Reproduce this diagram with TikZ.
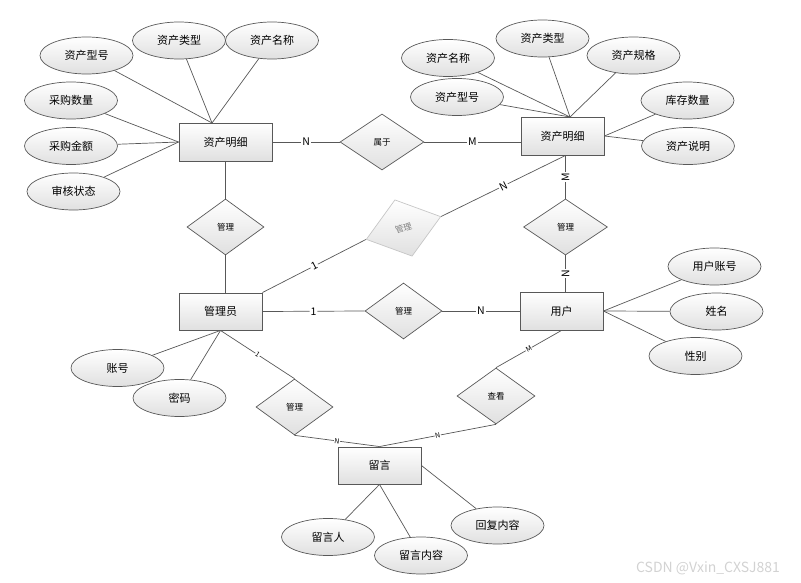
\documentclass[tikz,border=0pt]{standalone}
\usepackage{fontspec}
\setmainfont{Noto Sans CJK SC}
\usepackage{tikz}
\usetikzlibrary{positioning,shapes.geometric}
\definecolor{edgegray}{RGB}{88,88,88}
\definecolor{shadegray}{RGB}{224,224,224}

\begin{document}
\begin{tikzpicture}[x=1pt,y=-1pt,
  entity/.style={draw=edgegray,line width=0.9pt,top color=white,bottom color=shadegray,
    minimum width=83pt,minimum height=38pt,inner sep=0pt,font=\fontsize{11}{13}\selectfont},
  attr/.style={ellipse,draw=edgegray,line width=0.7pt,top color=white,bottom color=shadegray,
    minimum width=93pt,minimum height=37pt,inner sep=0pt,font=\fontsize{11}{13}\selectfont},
  rel/.style={diamond,draw=edgegray,line width=0.7pt,top color=white,bottom color=shadegray,
    minimum width=77pt,minimum height=56pt,inner sep=0pt,font=\fontsize{8.5}{10}\selectfont},
  link/.style={draw=edgegray,line width=0.7pt},
  card/.style={fill=white,inner sep=1pt,sloped,font=\fontsize{10.5}{12}\selectfont},
  tinycard/.style={fill=white,inner sep=0.5pt,sloped,font=\fontsize{7}{8}\selectfont}
]
\useasboundingbox (0,0) rectangle (801,583);
\node[entity,minimum width=93pt] (ad) at (225.5,142) {资产明细};
\node[entity] (ar) at (562.5,136) {资产明细};
\node[entity,minimum height=37pt] (admin) at (220.5,311.5) {管理员};
\node[entity] (user) at (561.5,311) {用户};
\node[entity,minimum height=37pt] (msg) at (379.5,465.5) {留言};
\node[rel,minimum width=84pt] (belong) at (382,142) {属于};
\node[rel] (mgA) at (225.5,227) {管理};
\node[rel,draw=gray!45,text=gray,minimum width=78pt,minimum height=59pt,rotate=17] (mgB) at (403.5,228) {管理};
\node[rel] (mgC) at (403.5,311) {管理};
\node[rel,minimum width=84pt] (mgD) at (565.5,227) {管理};
\node[rel] (mgE) at (294.5,407) {管理};
\node[rel,minimum width=78pt] (view) at (496,396) {查看};
\coordinate (adtop) at (212,123);
\coordinate (artop) at (570,117);
\node[attr] (admodel) at (86.5,55.5) {资产型号};
\node[attr] (adkind) at (179,40.5) {资产类型};
\node[attr] (adname) at (272,40.5) {资产名称};
\node[attr] (buynum) at (71,100.5) {采购数量};
\node[attr] (buysum) at (71,146) {采购金额};
\node[attr] (audit) at (73.5,191.5) {审核状态};
\node[attr] (arname) at (448,58) {资产名称};
\node[attr] (arkind) at (542.5,38.5) {资产类型};
\node[attr] (arspec) at (633.5,55.5) {资产规格};
\node[attr] (armodel) at (457,97) {资产型号};
\node[attr] (stock) at (687.5,100.5) {库存数量};
\node[attr] (remark) at (688,146) {资产说明};
\node[attr] (account) at (117.5,368) {账号};
\node[attr] (pwd) at (179.5,398) {密码};
\node[attr] (uacc) at (714.5,266.5) {用户账号};
\node[attr] (uname) at (716.5,311.5) {姓名};
\node[attr] (usex) at (695.5,356) {性别};
\node[attr] (author) at (328,537) {留言人};
\node[attr] (content) at (421,555.5) {留言内容};
\node[attr] (reply) at (497.5,525.5) {回复内容};
\node[text=gray!35,font=\fontsize{14}{16}\selectfont] (wm) at (708,568) {CSDN @Vxin\_CXSJ881};
\draw[link] (admodel) -- (adtop);
\draw[link] (adkind) -- (adtop);
\draw[link] (adname) -- (adtop);
\draw[link] (buynum) -- (ad.west);
\draw[link] (buysum) -- (ad.west);
\draw[link] (audit) -- (ad.west);
\draw[link] (arname) -- (artop);
\draw[link] (arkind) -- (artop);
\draw[link] (arspec) -- (artop);
\draw[link] (armodel) -- (artop);
\draw[link] (stock) -- (ar.east);
\draw[link] (remark) -- (ar.east);
\draw[link] (account) -- (admin.south);
\draw[link] (pwd) -- (admin.south);
\draw[link] (uacc) -- (user.east);
\draw[link] (uname) -- (user.east);
\draw[link] (usex) -- (user.east);
\draw[link] (author) -- (msg.south);
\draw[link] (content) -- (msg.south);
\draw[link] (reply) -- (msg.east);
\draw[link] (ad.east) -- node[card] {N} (belong.west);
\draw[link] (belong.east) -- node[card] {M} (belong.east -| ar.west);
\draw[link] (ad.south) -- (mgA.north);
\draw[link] (mgA.south) -- (mgA.south |- admin.north);
\draw[link] (admin.north east) -- node[card] {1} (mgB.west);
\draw[link] (mgB.east) -- node[card] {N} (mgD.north |- ar.south);
\draw[link] (mgD.north) -- node[card] {M} (mgD.north |- ar.south);
\draw[link] (mgD.south |- user.north) -- node[card] {N} (mgD.south);
\draw[link] (admin.east) -- node[card] {1} (mgC.west);
\draw[link] (mgC.east) -- node[card] {N} (mgC.east -| user.west);
\draw[link] (admin.south) -- node[tinycard] {1} (mgE.north);
\draw[link] (mgE.south) -- node[tinycard] {N} (msg.north);
\draw[link] (user.south) -- node[tinycard] {M} (view.north);
\draw[link] (view.south) -- node[tinycard] {N} (msg.north);
\end{tikzpicture}
\end{document}
